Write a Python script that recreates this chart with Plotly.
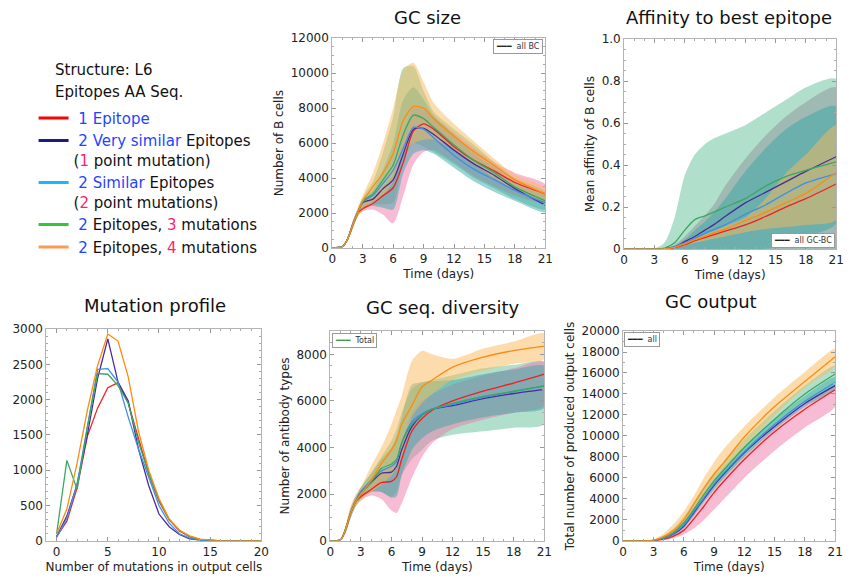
import plotly.graph_objects as go

# ---------------- DATA ----------------
series_names = ["1 Epitope", "2 Very similar", "2 Similar", "2 Ep, 3 mut", "2 Ep, 4 mut"]
line_colors = ["#f02020", "#4b2a9a", "#3d8fe8", "#3aa85e", "#ff8a10"]
legend_colors = ["#ff0000", "#1c1c80", "#18b8ff", "#33c833", "#ff9955"]

# GC size
T_size = [0, 1, 1.5, 2, 2.5, 3, 4, 5, 6, 7, 8, 9, 10, 12, 14, 16, 18, 21]
size_red = [0, 80, 500, 1300, 2000, 2250, 2550, 3000, 3450, 4900, 6700, 7100, 6800, 5800, 5000, 4400, 3750, 3100]
size_purple = [0, 80, 500, 1300, 2000, 2600, 2800, 3400, 3900, 5400, 6800, 6850, 6500, 5600, 4800, 4150, 3400, 2460]
size_blue = [0, 80, 500, 1300, 2000, 2650, 3000, 3700, 4450, 5700, 6900, 6800, 6300, 5300, 4500, 3900, 3300, 2580]
size_green = [0, 80, 500, 1300, 2000, 2700, 3100, 3900, 4750, 6500, 7600, 7400, 6900, 5900, 5000, 4300, 3500, 2700]
size_orange = [0, 80, 500, 1300, 2000, 2700, 3500, 4300, 5400, 7300, 8100, 8000, 7400, 6400, 5500, 4700, 3900, 3100]
size_pink_low = [0, 50, 400, 1100, 1800, 2100, 2200, 1900, 1400, 3000, 4800, 5500, 5600, 4900, 4100, 3500, 3000, 2600]
size_pink_up = [0, 100, 600, 1500, 2200, 2500, 2900, 3500, 4200, 6500, 8000, 7900, 7500, 6600, 5700, 4900, 4300, 3650]
size_teal_low = [0, 50, 400, 1100, 1800, 2300, 2400, 2300, 2200, 4300, 5400, 5600, 5400, 4600, 3800, 3200, 2700, 2050]
size_teal_up = [0, 100, 600, 1500, 2200, 2800, 3300, 4500, 6000, 8500, 9200, 8500, 7600, 6500, 5400, 4600, 3800, 3000]
size_green_low = [0, 50, 400, 1100, 1800, 2300, 2500, 2500, 2600, 5000, 6000, 5800, 5500, 4800, 4000, 3400, 2800, 2200]
size_green_up = [0, 100, 600, 1500, 2200, 2900, 3800, 5500, 7500, 10300, 10400, 9000, 7800, 6800, 5900, 4900, 4000, 3200]
size_orange_low = [0, 50, 400, 1100, 1800, 2100, 2500, 3000, 3800, 5500, 6000, 6200, 6200, 5600, 4800, 4000, 3300, 2700]
size_orange_up = [0, 100, 600, 1500, 2300, 3000, 4300, 6000, 8000, 10200, 10600, 9500, 8300, 7100, 6100, 5100, 4200, 3400]

# Affinity to best epitope
T_aff = [0, 3, 4, 5, 6, 7, 8, 9, 10, 12, 14, 16, 18, 21]
aff_red = [0, 0, 0.001, 0.007, 0.02, 0.04, 0.055, 0.07, 0.085, 0.115, 0.155, 0.2, 0.24, 0.31]
aff_purple = [0, 0, 0.002, 0.01, 0.035, 0.06, 0.09, 0.12, 0.155, 0.22, 0.27, 0.32, 0.37, 0.44]
aff_blue = [0, 0, 0.002, 0.01, 0.03, 0.05, 0.075, 0.095, 0.115, 0.165, 0.21, 0.265, 0.315, 0.36]
aff_green = [0, 0, 0.005, 0.03, 0.09, 0.14, 0.158, 0.178, 0.2, 0.24, 0.3, 0.345, 0.375, 0.415]
aff_orange = [0, 0, 0.001, 0.008, 0.025, 0.045, 0.06, 0.08, 0.095, 0.135, 0.175, 0.22, 0.265, 0.365]
aff_green_up = [0, 0.003, 0.03, 0.15, 0.35, 0.45, 0.5, 0.53, 0.55, 0.59, 0.65, 0.71, 0.77, 0.81]
aff_gray_up = [0, 0, 0.005, 0.02, 0.06, 0.11, 0.16, 0.22, 0.3, 0.43, 0.54, 0.63, 0.7, 0.77]
aff_teal_up = [0, 0, 0.004, 0.015, 0.045, 0.09, 0.13, 0.18, 0.24, 0.37, 0.48, 0.57, 0.63, 0.68]
aff_teal_low = [0, 0, 0, 0, 0, 0, 0, 0, 0, 0, 0, 0.02, 0.06, 0.12]
aff_orange_up = [0, 0, 0.002, 0.01, 0.03, 0.05, 0.07, 0.09, 0.11, 0.15, 0.24, 0.36, 0.45, 0.59]
aff_orange_low = [0, 0, 0, 0.005, 0.015, 0.03, 0.04, 0.05, 0.06, 0.08, 0.095, 0.105, 0.115, 0.14]
aff_zero = [0] * 14

# Mutation profile
mutations = list(range(21))
mut_red = [60, 280, 750, 1480, 1880, 2170, 2240, 1950, 1450, 950, 560, 300, 140, 60, 20, 5, 0, 0, 0, 0, 0]
mut_purple = [60, 350, 800, 1500, 2300, 2860, 2250, 1980, 1300, 780, 380, 200, 90, 30, 10, 2, 0, 0, 0, 0, 0]
mut_blue = [50, 320, 800, 1600, 2430, 2440, 2250, 1750, 1300, 900, 500, 250, 100, 40, 10, 2, 0, 0, 0, 0, 0]
mut_green = [100, 1140, 730, 1600, 2370, 2360, 2200, 1950, 1400, 950, 580, 300, 150, 60, 20, 5, 0, 0, 0, 0, 0]
mut_orange = [100, 450, 1100, 1850, 2480, 2930, 2830, 2320, 1550, 1000, 600, 310, 150, 70, 25, 8, 0, 0, 0, 0, 0]

# GC seq. diversity
T_div = [0, 1, 1.5, 2, 2.5, 3, 4, 5, 6, 6.5, 7, 8, 9, 10, 12, 15, 18, 21]
div_red = [0, 50, 500, 1200, 1700, 1900, 2200, 2500, 2550, 2750, 3500, 4700, 5250, 5600, 6000, 6420, 6770, 7150]
div_purple = [0, 50, 500, 1200, 1700, 2100, 2500, 2900, 2950, 3200, 3900, 4900, 5400, 5650, 5800, 6100, 6320, 6500]
div_blue = [0, 50, 500, 1200, 1700, 2100, 2600, 3000, 3200, 3400, 4200, 5100, 5450, 5650, 5850, 6150, 6400, 6650]
div_green = [0, 50, 500, 1200, 1700, 2000, 2500, 3100, 3300, 3500, 4200, 5000, 5400, 5650, 5900, 6200, 6420, 6650]
div_orange = [0, 50, 500, 1200, 1700, 2000, 2600, 3300, 3900, 4300, 5000, 5800, 6600, 6900, 7450, 7880, 8160, 8350]
div_orange_up = [0, 80, 700, 1500, 2000, 2300, 3200, 4000, 5000, 5600, 6200, 7700, 8150, 8000, 7800, 8250, 8550, 8900]
div_orange_low = [0, 30, 350, 1000, 1500, 1700, 2100, 2400, 2800, 3100, 3600, 5300, 5900, 6300, 6900, 7300, 7600, 7800]
div_green_up = [0, 70, 600, 1400, 1900, 2300, 2900, 3600, 4300, 4800, 5500, 6500, 6800, 6900, 7100, 7400, 7550, 7650]
div_green_low = [0, 30, 350, 1000, 1500, 1800, 2100, 2100, 1900, 2100, 2800, 3500, 3900, 4300, 4550, 4700, 4850, 5000]
div_teal_up = [0, 70, 600, 1400, 1900, 2300, 2900, 3500, 4000, 4500, 5300, 6700, 6800, 6850, 6900, 7150, 7350, 7500]
div_teal_low = [0, 30, 350, 1000, 1500, 1800, 2100, 2100, 1850, 1900, 2800, 3900, 4400, 4700, 5000, 5300, 5500, 5700]
div_pink_up = [0, 70, 600, 1400, 1900, 2200, 2600, 3000, 3200, 3500, 4200, 5500, 6000, 6300, 6700, 7100, 7400, 7700]
div_pink_low = [0, 30, 350, 1000, 1500, 1750, 1950, 1800, 1300, 1200, 1600, 2700, 3600, 4200, 4800, 5200, 5500, 5800]

# GC output
T_out = [0, 2, 3, 4, 5, 6, 7, 8, 9, 10, 12, 15, 18, 21]
out_red = [0, 0, 20, 150, 450, 1000, 2100, 3300, 4600, 5700, 7750, 10400, 12550, 14400]
out_purple = [0, 0, 30, 250, 650, 1400, 2700, 4000, 5300, 6400, 8400, 10900, 13100, 14800]
out_blue = [0, 0, 30, 250, 700, 1500, 2800, 4100, 5400, 6500, 8500, 11100, 13300, 15100]
out_green = [0, 0, 40, 300, 800, 1700, 3000, 4400, 5700, 6800, 8900, 11600, 14000, 15900]
out_orange = [0, 0, 60, 400, 1000, 2000, 3500, 5000, 6350, 7500, 9900, 12800, 15200, 17550]
out_orange_up = [0, 0, 120, 700, 1600, 2800, 4300, 6000, 7500, 8800, 10900, 13700, 16100, 18300]
out_orange_low = [0, 0, 30, 250, 700, 1500, 2800, 4200, 5600, 6800, 9000, 12000, 14600, 16700]
out_green_up = [0, 0, 80, 500, 1200, 2300, 3700, 5200, 6500, 7600, 9700, 12400, 14800, 16700]
out_green_low = [0, 0, 20, 200, 600, 1300, 2500, 3800, 5000, 6100, 8200, 10900, 13200, 14900]
out_teal_up = [0, 0, 60, 400, 1000, 1900, 3200, 4600, 5900, 7000, 9000, 11600, 13800, 15600]
out_teal_low = [0, 0, 20, 200, 500, 1200, 2400, 3700, 4900, 6000, 8000, 10600, 12800, 14500]
out_pink_up = [0, 0, 40, 250, 700, 1400, 2600, 3800, 5000, 6200, 8200, 10800, 13000, 14800]
out_pink_low = [0, 0, 0, 80, 250, 600, 1200, 2000, 3000, 4000, 6000, 8600, 10800, 12800]

time_ticks = [0, 3, 6, 9, 12, 15, 18, 21]

# ---------------- STYLE ----------------
FONT = "DejaVu Sans"
FILL = {
    "green": "rgba(80,185,140,0.45)",
    "gray": "rgba(140,140,150,0.45)",
    "teal": "rgba(50,168,165,0.48)",
    "orange": "rgba(250,185,90,0.5)",
    "pink": "rgba(240,120,170,0.5)",
}

fig = go.Figure()


def band(x, low, up, color, xa, ya):
    fig.add_trace(go.Scatter(
        x=list(x) + list(x)[::-1], y=list(up) + list(low)[::-1],
        fill="toself", fillcolor=FILL[color], mode="lines",
        line=dict(width=0, shape="spline", smoothing=0.7),
        xaxis=xa, yaxis=ya, showlegend=False, hoverinfo="skip"))


def lines(x, ys, xa, ya, shape="spline"):
    for y, c in zip(ys, line_colors):
        fig.add_trace(go.Scatter(
            x=x, y=y, mode="lines", line=dict(color=c, width=1.3, shape=shape, smoothing=0.7),
            xaxis=xa, yaxis=ya, showlegend=False))


# GC size
band(T_size, size_green_low, size_green_up, "green", "x", "y")
band(T_size, size_pink_low, size_pink_up, "pink", "x", "y")
band(T_size, size_teal_low, size_teal_up, "teal", "x", "y")
band(T_size, size_orange_low, size_orange_up, "orange", "x", "y")
lines(T_size, [size_red, size_purple, size_blue, size_green, size_orange], "x", "y")

# Affinity
band(T_aff, aff_zero, aff_green_up, "green", "x2", "y2")
band(T_aff, aff_zero, aff_gray_up, "gray", "x2", "y2")
band(T_aff, aff_teal_low, aff_teal_up, "teal", "x2", "y2")
band(T_aff, aff_orange_low, aff_orange_up, "orange", "x2", "y2")
lines(T_aff, [aff_red, aff_purple, aff_blue, aff_green, aff_orange], "x2", "y2")

# Mutation profile
lines(mutations, [mut_red, mut_purple, mut_blue, mut_green, mut_orange], "x3", "y3", shape="linear")

# Diversity
band(T_div, div_green_low, div_green_up, "green", "x4", "y4")
band(T_div, div_pink_low, div_pink_up, "pink", "x4", "y4")
band(T_div, div_teal_low, div_teal_up, "teal", "x4", "y4")
band(T_div, div_orange_low, div_orange_up, "orange", "x4", "y4")
lines(T_div, [div_red, div_purple, div_blue, div_green, div_orange], "x4", "y4")

# Output
band(T_out, out_pink_low, out_pink_up, "pink", "x5", "y5")
band(T_out, out_teal_low, out_teal_up, "teal", "x5", "y5")
band(T_out, out_green_low, out_green_up, "green", "x5", "y5")
band(T_out, out_orange_low, out_orange_up, "orange", "x5", "y5")
lines(T_out, [out_red, out_purple, out_blue, out_green, out_orange], "x5", "y5")

# Main legend (left)
B = "#1f45ff"
M = "#ff1f6a"
legend_labels = [
    f"&nbsp;<span style='color:{B}'>1 Epitope</span>",
    f"&nbsp;<span style='color:{B}'>2 Very similar</span> Epitopes<br>(<span style='color:{M}'>1</span> point mutation)",
    f"&nbsp;<span style='color:{B}'>2 Similar</span> Epitopes<br>(<span style='color:{M}'>2</span> point mutations)",
    f"&nbsp;<span style='color:{B}'>2</span> Epitopes, <span style='color:{M}'>3</span> mutations",
    f"&nbsp;<span style='color:{B}'>2</span> Epitopes, <span style='color:{M}'>4</span> mutations",
]
for lab, c in zip(legend_labels, legend_colors):
    fig.add_trace(go.Scatter(x=[None], y=[None], mode="lines", name=lab,
                             line=dict(color=c, width=3), legend="legend",
                             xaxis="x3", yaxis="y3"))

W, H = 853, 583


def px_x(v):
    return v / W


def px_y(v):
    return 1 - v / H


def axis(domain_px, rng, anchor, tickvals=None, dtick=None, title=None, ticktext=None, minor=None,
         horizontal=True):
    if horizontal:
        dom = [px_x(domain_px[0]), px_x(domain_px[1])]
    else:
        dom = [px_y(domain_px[1]), px_y(domain_px[0])]
    d = dict(domain=dom, range=rng, anchor=anchor, showline=True, linecolor="#b4b4b4", linewidth=1,
             mirror="allticks", ticks="inside", ticklen=4, tickcolor="#999",
             showgrid=False, zeroline=False, exponentformat="none", separatethousands=False,
             tickfont=dict(family=FONT, size=12, color="#222"))
    if tickvals is not None:
        d["tickvals"] = tickvals
    if ticktext is not None:
        d["ticktext"] = ticktext
    if dtick is not None:
        d["dtick"] = dtick
        d["tick0"] = 0
        d["tickformat"] = "d"
    if minor is not None:
        d["minor"] = dict(dtick=minor, ticks="inside", ticklen=2, tickcolor="#aaa")
    if title:
        d["title"] = dict(text=title, font=dict(family=FONT, size=12, color="#222"), standoff=4)
    return d


def box_legend(text, line_color, x, y, xanchor, yanchor):
    return dict(
        text=f"<span style='color:{line_color}'>\u2501\u2501\u2501</span>&nbsp;&nbsp;{text}",
        x=px_x(x), y=px_y(y), xref="paper", yref="paper", xanchor=xanchor, yanchor=yanchor,
        showarrow=False, font=dict(family=FONT, size=8, color="#333"),
        bordercolor="#999", borderwidth=1, borderpad=2, bgcolor="white")


def title(text, x, y):
    return dict(text=text, x=px_x(x), y=px_y(y), xref="paper", yref="paper", showarrow=False,
                xanchor="center", yanchor="middle", font=dict(family=FONT, size=18, color="#111"))


layout = dict(
    width=W, height=H, margin=dict(l=0, r=0, t=0, b=0),
    paper_bgcolor="white", plot_bgcolor="white",
    font=dict(family=FONT, color="#222"),
    xaxis=axis([333, 549], [0, 21], "y", tickvals=time_ticks, title="Time (days)", minor=1),
    yaxis=axis([32, 247], [0, 12000], "x", dtick=2000, title="Number of B cells", minor=500, horizontal=False),
    xaxis2=axis([629, 844], [0, 21], "y2", tickvals=time_ticks, title="Time (days)", minor=1),
    yaxis2=axis([33, 248], [0, 1], "x2", tickvals=[0, 0.2, 0.4, 0.6, 0.8, 1.0],
                ticktext=["0", "0.2", "0.4", "0.6", "0.8", "1.0"], title="Mean affinity of B cells",
                minor=0.05, horizontal=False),
    xaxis3=axis([43, 261], [-1, 20], "y3", tickvals=[0, 5, 10, 15, 20],
                title="Number of mutations in output cells", minor=1),
    yaxis3=axis([330, 547], [0, 3000], "x3", dtick=500, minor=100, horizontal=False),
    xaxis4=axis([331, 548], [0, 21], "y4", tickvals=time_ticks, title="Time (days)", minor=1),
    yaxis4=axis([332, 547], [0, 9000], "x4", tickvals=[0, 2000, 4000, 6000, 8000],
                title="Number of antibody types", minor=500, horizontal=False),
    xaxis5=axis([628, 843], [0, 21], "y5", tickvals=time_ticks, title="Time (days)", minor=1),
    yaxis5=axis([332, 547], [0, 20000], "x5", dtick=2000, title="Total number of produced output cells",
                minor=1000, horizontal=False),
    legend=dict(x=px_x(30), y=px_y(97), xanchor="left", yanchor="top",
                font=dict(family=FONT, size=15, color="#111"), valign="top",
                bgcolor="rgba(0,0,0,0)", tracegroupgap=3),
    annotations=[
        title("GC size", 430, 11),
        title("Affinity to best epitope", 735, 11),
        title("Mutation profile", 153, 306),
        title("GC seq. diversity", 445, 308),
        title("GC output", 717, 302),
        dict(text="Structure: L6", x=px_x(50), y=px_y(65), xref="paper", yref="paper", showarrow=False,
             xanchor="left", yanchor="middle", font=dict(family=FONT, size=15, color="#111")),
        dict(text="Epitopes AA Seq.", x=px_x(50), y=px_y(87), xref="paper", yref="paper", showarrow=False,
             xanchor="left", yanchor="middle", font=dict(family=FONT, size=15, color="#111")),
        box_legend("all BC", "#222", 547, 33, "right", "top"),
        box_legend("all GC-BC", "#222", 843, 247, "right", "bottom"),
        box_legend("Total", "#3a9a4a", 333, 334, "left", "top"),
        box_legend("all", "#222", 629, 333, "left", "top"),
    ],
)
fig.update_layout(**layout)
fig.write_html("out.html")
